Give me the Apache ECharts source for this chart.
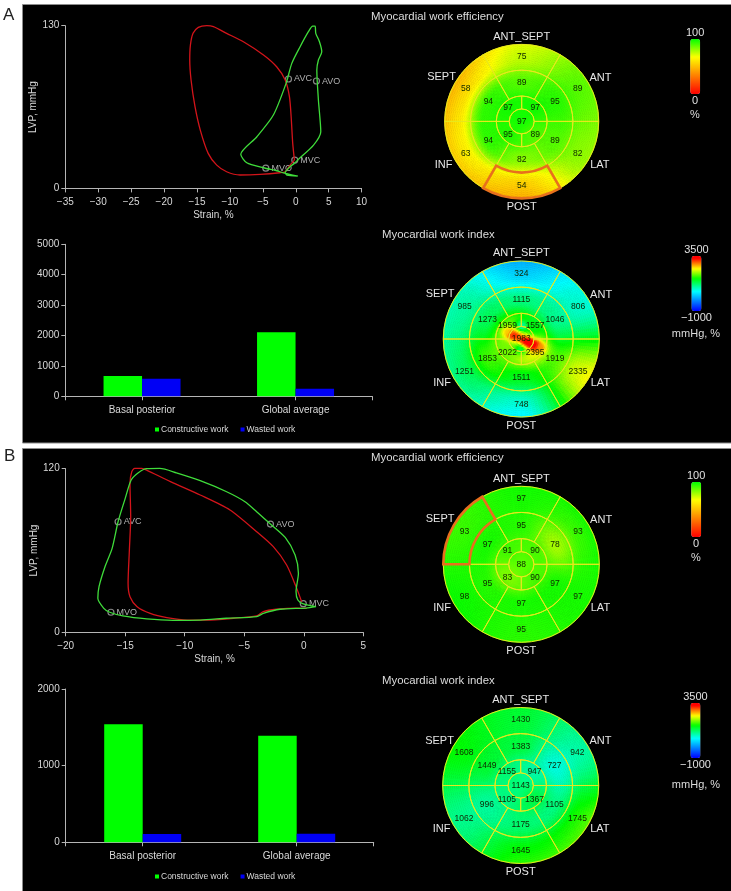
<!DOCTYPE html>
<html><head><meta charset="utf-8">
<style>html,body{margin:0;padding:0;background:#fff}#c{width:731px;height:891px}</style>
<script src="https://cdn.jsdelivr.net/npm/echarts@6/dist/echarts.min.js"></script>
</head><body><div id="c"></div>
<script>
// ---------- loop data (strain %, LVP mmHg) ----------
const aRedStrain = [-0.2,-0.46,-0.7,-0.96,-1.6,-2.9,-4.9,-7.95,-10.5,-12.5,-13.5,-14.8,-15.6,-16,-16.1,-15.9,-15.3,-14.5,-13.3,-12,-10.5,-8.45,-5.4,-2.4,-1.6,-0.86,-0.2];
const aRedLvp    = [22.6,36,57.3,73.3,86.6,97.2,106.6,117.2,123.9,129.2,130,128.7,123.9,114.5,102.6,86.6,65.3,46.6,28,18.6,13.3,10.7,11.2,12.5,13.3,18.6,22.6];
const aGreenStrain = [-0.2,0.4,2.7,3.8,3.44,3.2,3.44,3.95,3.6,3.04,2.94,2.58,1.92,0.66,-0.6,-1.47,-3.4,-5.9,-8.35,-7.44,-4.9,-2.9,-1.87,0.3,-1.37,-1.6,-0.86,-0.2];
const aGreenLvp    = [20,23.2,34.6,45.3,70.6,94.6,102.6,109.2,117.2,123.9,129.7,129.7,125.2,113.2,99.9,83.9,58.6,41.3,27.2,20.5,16.5,14.1,12.5,9.9,10.7,12.5,17.3,20];
const bRedStrain = [-0.18,-0.65,-1.44,-2.56,-3.96,-6.2,-8.7,-11.2,-13.2,-13.6,-14.2,-14.45,-14.6,-14.54,-14.65,-14.76,-14.6,-14,-12.9,-11.5,-9.8,-8.2,-5.9,-3.97,-3.4,-2.3,-0.6,0.24];
const bRedLvp    = [22.5,33.5,49.4,62.8,73.8,89.7,100.7,110.5,119,120.2,120.2,117.8,109.2,84.8,60.4,35.9,26.1,18.8,13.9,10.8,9,9,10.3,12,15.2,16.9,17.8,17.6];
const bGreenStrain = [1.03,-0.04,-0.5,-0.65,-0.45,-0.73,-1.56,-2.8,-3.96,-4.94,-6.48,-8.7,-10.7,-12.1,-13.2,-13.9,-14.5,-15,-15.6,-16.1,-16.7,-17.2,-17.3,-16.8,-16.3,-15.2,-13.2,-11,-8.7,-6.5,-3.96,-3.4,-2,0.18,1.03];
const bGreenLvp    = [18.8,20.8,23.7,29.8,43.3,56.7,69.6,79.4,88.5,95.8,103.1,111.2,117,120.2,120,117,111.7,98.2,81.1,61.6,48.1,33.5,24.9,17.6,14.7,12,9.8,8.8,9,10.3,11.5,13.9,16.9,17.8,18.8];
const valveNames = ['AVC','AVO','MVO','MVC'];
const aValveStrain = [-1.1,3.14,-4.55,-0.15];
const aValveLvp    = [87.4,85.8,16.2,22.6];
const bValveStrain = [-15.6,-2.8,-16.2,-0.04];
const bValveLvp    = [81.1,79.4,14.7,21];
// ---------- bars ----------
const barCategories = ['Basal posterior','Global average'];
const aConstructive = [669,2105];
const aWasted       = [581,252];
const bConstructive = [1539,1391];
const bWasted       = [109,113];
// ---------- bull's-eye values: [ANT_SEPT,ANT,LAT,POST,INF,SEPT] mid and outer, inner [ANT,LAT,INF,SEPT], apex ----------
const regionNames = ['ANT_SEPT','ANT','LAT','POST','INF','SEPT'];
const aEfficiency = {outer:[75,89,82,54,63,58], mid:[89,95,89,82,94,94], inner:[97,89,95,97], apex:[97]};
const aWorkIndex  = {outer:[324,806,2335,748,1251,985], mid:[1115,1046,1919,1511,1853,1273], inner:[1557,2395,2022,1959], apex:[1983]};
const bEfficiency = {outer:[97,93,97,95,98,93], mid:[95,78,97,97,95,97], inner:[90,90,83,91], apex:[88]};
const bWorkIndex  = {outer:[1430,942,1745,1645,1062,1608], mid:[1383,727,1105,1175,996,1449], inner:[947,1367,1105,1155], apex:[1143]};
// local streak seen in the A work-index map (radius fraction, angle deg, value)
const aStreakRadius = [0.17,0.12,0,0.07,0.14,0.21,0.28,0.08,0.15,0.21];
const aStreakAngle  = [90,270,0,337,337,337,337,155,158,154];
const aStreakValue  = [900,1200,3100,3300,3500,3500,2800,3000,3400,2600];
// ---------- colour scales ----------
const effStops  = [[0,[255,0,0]],[33.3,[255,128,0]],[67,[255,255,0]],[100,[0,255,0]]];
const workStops = [[-1000,[0,0,255]],[600,[0,255,255]],[1650,[0,255,0]],[2450,[255,255,0]],[3300,[255,0,0]],[3500,[255,0,0]]];

const FONT='Liberation Sans', TXT='#d9d9d9', AXC='#b5b5b5';
function colorAt(stops,v){
  if(v<=stops[0][0])return `rgb(${stops[0][1].join(',')})`;
  for(let i=1;i<stops.length;i++){
    if(v<=stops[i][0]){
      const t=(v-stops[i-1][0])/(stops[i][0]-stops[i-1][0]);
      const c=stops[i-1][1].map((a,k)=>Math.round(a+(stops[i][1][k]-a)*t));
      return `rgb(${c.join(',')})`;
    }
  }
  return `rgb(${stops[stops.length-1][1].join(',')})`;
}
function zip(a,b){return a.map((v,i)=>[v,b[i]]);}
const minus=v=>String(v).replace('-','\u2212');

// segment geometry in radius fractions
const RING={apex:.162,inner:.33,mid:.665,outer:1};
const segs=[];
const sixFrom=[60,0,300,240,180,120];
['outer','mid'].forEach(k=>{
  const r0=k==='outer'?RING.mid:RING.inner, r1=RING[k];
  sixFrom.forEach((a,i)=>segs.push({k,i,r0,r1,a0:a,a1:a+60,rc:k==='outer'?.84:.5,ac:a+30}));
});
[0,270,180,90].forEach((a,i)=>segs.push({k:'inner',i,r0:RING.apex,r1:RING.inner,a0:a,a1:a+90,rc:.25,ac:a+45}));
segs.push({k:'apex',i:0,r0:0,r1:RING.apex,a0:0,a1:360,rc:0,ac:0});

const series=[], visualMaps=[], polars=[], angleAxes=[], radiusAxes=[];
const nameRadius=[1.10,1.17,1.16,1.11,1.16,1.19], nameAngle=[90,29,331,270,209,151];
const smooth=t=>t*t*(3-2*t);

function bull(i,cx,cy,R,vals,stops,vm,highlight,spots){
  polars.push({center:[cx,cy],radius:R});
  angleAxes.push({polarIndex:i,min:0,max:360,startAngle:0,clockwise:false,show:false});
  radiusAxes.push({polarIndex:i,min:0,max:1,show:false});
  // value around a ring at angle th: ring values sit at the segment centres
  function ring(list,order,first,th){
    const n=list.length, w=360/n;
    const p=((th-first)%360+360)%360/w, j=Math.floor(p), t=smooth(p-j);
    const a=list[order[j%n]], b=list[order[(j+1)%n]];
    return a+(b-a)*t;
  }
  const o6=[1,0,5,4,3,2];          // centres 30,90,150,210,270,330 -> ANT,ANT_SEPT,SEPT,INF,POST,LAT
  const o4=[0,3,2,1];              // centres 45,135,225,315 -> ANT,SEPT,INF,LAT
  function shade(r,deg){
    const ap=vals.apex[0], inn=ring(vals.inner,o4,45,deg), mid=ring(vals.mid,o6,30,deg), out=ring(vals.outer,o6,30,deg);
    let v;
    if(r<.25) v=ap+(inn-ap)*smooth(r/.25);
    else if(r<.5) v=inn+(mid-inn)*smooth((r-.25)/.25);
    else if(r<.84) v=mid+(out-mid)*smooth((r-.5)/.34);
    else v=out+(out-mid)*(r-.84)/.34*.6;
    if(spots){
      const x=r*Math.cos(deg*Math.PI/180), y=r*Math.sin(deg*Math.PI/180);
      spots.r.forEach((sr,k)=>{
        const t=spots.a[k]*Math.PI/180, dx=x-sr*Math.cos(t), dy=y-sr*Math.sin(t);
        const w=Math.exp(-(dx*dx+dy*dy)/(2*.05*.05));
        v=v*(1-w)+spots.v[k]*w;
      });
    }
    return v;
  }
  const idx=series.length;
  series.push({
    type:'custom',coordinateSystem:'polar',polarIndex:i,silent:true,animation:false,
    dimensions:['radius','angle','value'],
    data:segs.map(s=>[s.rc,s.ac,vals[s.k][s.i]]),
    renderItem(params,api){
      const s=segs[params.dataIndex], cs=params.coordSys, P=cs.r, D=Math.PI/180, ch=[];
      const nr=Math.max(2,Math.round((s.r1-s.r0)*P/2)), na=Math.round((s.a1-s.a0)/3);
      for(let ir=0;ir<nr;ir++){
        const ra=s.r0+(s.r1-s.r0)*ir/nr, rb=s.r0+(s.r1-s.r0)*(ir+1)/nr, rm=(ra+rb)/2;
        for(let ia=0;ia<na;ia++){
          const a=s.a0+(s.a1-s.a0)*ia/na, b=s.a0+(s.a1-s.a0)*(ia+1)/na;
          const col=colorAt(stops,shade(rm,(a+b)/2));
          ch.push({type:'sector',silent:true,z2:0,
            shape:{cx:cs.cx,cy:cs.cy,r0:ra*P,r:rb*P,startAngle:-a*D,endAngle:-b*D,clockwise:false},
            style:{fill:col,stroke:col,lineWidth:.7}});
        }
      }
      const hi=highlight===params.dataIndex;
      ch.push({type:'sector',silent:true,z2:hi?6:5,
        shape:{cx:cs.cx,cy:cs.cy,r0:s.r0*P,r:s.r1*P,startAngle:-s.a0*D,endAngle:-s.a1*D,clockwise:false},
        style:{fill:'transparent',stroke:hi?'#e8701c':'#e8e81e',lineWidth:hi?2.6:1}});
      const pt=api.coord([s.rc,s.ac]);
      ch.push({type:'text',silent:true,z2:10,x:pt[0],y:pt[1],
        style:{text:String(api.value(2)),fontSize:8.5,fontFamily:FONT,fill:'#0f2600',align:'center',verticalAlign:'middle'}});
      return {type:'group',children:ch};
    }
  });
  series.push({
    type:'custom',coordinateSystem:'polar',polarIndex:i,silent:true,animation:false,
    dimensions:['radius','angle','name'],
    data:regionNames.map((n,k)=>[nameRadius[k],nameAngle[k],n]),
    renderItem(params,api){
      const pt=api.coord([nameRadius[params.dataIndex],nameAngle[params.dataIndex]]);
      return {type:'text',silent:true,x:pt[0],y:pt[1],
        style:{text:regionNames[params.dataIndex],fontSize:11,fontFamily:FONT,fill:'#e6e6e6',align:'center',verticalAlign:'middle'}};
    }
  });
  const cols=[];
  for(let k=0;k<=40;k++) cols.push(colorAt(stops,vm.min+(vm.max-vm.min)*k/40));
  visualMaps.push({type:'continuous',seriesIndex:idx,dimension:2,min:vm.min,max:vm.max,
    left:vm.x,top:vm.y,itemWidth:10,itemHeight:55,text:vm.text,textGap:1,padding:0,calculable:false,hoverLink:false,
    inRange:{color:cols},textStyle:{color:'#e0e0e0',fontSize:11,fontFamily:FONT}});
}

const titles=[];
function txt(t,x,y,o={}){titles.push(Object.assign({text:t,left:x,top:y,padding:0,
  textStyle:{color:o.color||'#dcdcdc',fontSize:o.fs||11.4,fontWeight:'normal',fontFamily:FONT}},o.extra||{}));}
txt('A',3,7,{color:'#222',fs:17});
txt('B',4,448,{color:'#222',fs:17});
txt('Myocardial work efficiency',371,11);
txt('Myocardial work index',382,229);
txt('Myocardial work efficiency',371,452);
txt('Myocardial work index',382,675);
txt('%',695,109,{fs:11,extra:{textAlign:'center'}});
txt('mmHg, %',696,328,{fs:11,extra:{textAlign:'center'}});
txt('%',696,552,{fs:11,extra:{textAlign:'center'}});
txt('mmHg, %',696,779,{fs:11,extra:{textAlign:'center'}});

bull(0,521.7,121.4,77,aEfficiency,effStops,{min:0,max:100,x:686,y:27,text:['100','0']},3,null);
bull(1,521.3,339,78,aWorkIndex,workStops,{min:-1000,max:3500,x:681,y:244,text:['3500','\u22121000']},null,{r:aStreakRadius,a:aStreakAngle,v:aStreakValue});
bull(2,521.3,564.3,78,bEfficiency,effStops,{min:0,max:100,x:687,y:470,text:['100','0']},5,null);
bull(3,520.7,785.5,78,bWorkIndex,workStops,{min:-1000,max:3500,x:680,y:691,text:['3500','\u22121000']},null,null);

const grids=[
 {left:65.3,top:25.7,width:296.3,height:162.7},
 {left:65.3,top:244.3,width:307,height:152},
 {left:65.7,top:468.7,width:297.6,height:163.6},
 {left:65.7,top:689,width:308,height:153.3}];
const al={lineStyle:{color:AXC,width:1}}, at={length:4,lineStyle:{color:AXC,width:1}};
const lab={color:TXT,fontSize:10,fontFamily:FONT};
const nameStyle={color:TXT,fontSize:10,fontFamily:FONT};
function valX(g,min,max){return {type:'value',gridIndex:g,min,max,interval:5,position:'bottom',axisLine:{show:true,onZero:false,...al},axisTick:{show:true,...at},axisLabel:{...lab,margin:9,formatter:minus},splitLine:{show:false},name:'Strain, %',nameLocation:'middle',nameGap:22,nameTextStyle:nameStyle};}
function catX(g){return {type:'category',gridIndex:g,data:barCategories,position:'bottom',axisLine:{show:true,...al},axisTick:{show:true,alignWithLabel:true,...at},axisLabel:{...lab,margin:9}};}
function edgeX(g){return {type:'category',gridIndex:g,data:[''],position:'bottom',axisLine:{show:false},axisTick:{show:true,alignWithLabel:false,...at},axisLabel:{show:false}};}
function yAx(g,max,interval,name){return {type:'value',gridIndex:g,min:0,max,interval,axisLine:{show:true,onZero:false,...al},axisTick:{show:true,...at},axisLabel:{...lab,margin:6,formatter:v=>String(v)},splitLine:{show:false},name,nameLocation:'middle',nameGap:25,nameTextStyle:nameStyle};}
const xAxis=[valX(0,-35,10),catX(1),edgeX(1),valX(2,-20,5),catX(3),edgeX(3)];
const yAxis=[yAx(0,130,130,'LVP, mmHg'),yAx(1,5000,1000),yAx(2,120,120,'LVP, mmHg'),yAx(3,2000,1000)];

function loop(x,y,s,l,c){series.push({type:'line',xAxisIndex:x,yAxisIndex:y,data:zip(s,l),showSymbol:false,symbol:'none',smooth:.25,clip:false,silent:true,animation:false,lineStyle:{color:c,width:1.3}});}
const RED='#d3141a',GRN='#3fdc3a';
loop(0,0,aRedStrain,aRedLvp,RED);loop(0,0,aGreenStrain,aGreenLvp,GRN);
loop(3,2,bRedStrain,bRedLvp,RED);loop(3,2,bGreenStrain,bGreenLvp,GRN);
function valves(x,y,s,l){series.push({type:'scatter',xAxisIndex:x,yAxisIndex:y,silent:true,animation:false,symbol:'circle',symbolSize:6,
  data:valveNames.map((n,i)=>({name:n,value:[s[i],l[i]]})),
  itemStyle:{color:'rgba(0,0,0,0)',borderColor:'#a8a8a8',borderWidth:1.2},
  label:{show:true,position:'right',distance:2,formatter:'{b}',color:TXT,fontSize:9,fontFamily:FONT}});}
valves(0,0,aValveStrain,aValveLvp);valves(3,2,bValveStrain,bValveLvp);
function bars(x,y,c,w){
  series.push({type:'bar',name:'Constructive work',xAxisIndex:x,yAxisIndex:y,data:c,barWidth:38.5,barGap:'0%',animation:false,silent:true,itemStyle:{color:'#00ff00'}});
  series.push({type:'bar',name:'Wasted work',xAxisIndex:x,yAxisIndex:y,data:w,barWidth:38.5,barGap:'0%',animation:false,silent:true,itemStyle:{color:'#0000f5'}});
}
bars(1,1,aConstructive,aWasted);bars(4,3,bConstructive,bWasted);

const legendBase={data:[{name:'Constructive work',icon:'rect'},{name:'Wasted work',icon:'rect'}],left:155,itemWidth:4,itemHeight:4,itemGap:12,padding:0,selectedMode:false,textStyle:{color:TXT,fontSize:8.5,fontFamily:FONT,padding:[0,0,0,-3]}};

const chart=echarts.init(document.getElementById('c'),null,{renderer:'canvas'});
chart.setOption({
  animation:false,backgroundColor:'#fff',textStyle:{fontFamily:FONT},
  title:titles,
  graphic:{elements:[
    {type:'rect',z:-10,silent:true,shape:{x:22.5,y:4.5,width:720,height:438.5},style:{fill:'#000',stroke:'#8c8c8c',lineWidth:1}},
    {type:'rect',z:-10,silent:true,shape:{x:22.5,y:448.5,width:720,height:450},style:{fill:'#000',stroke:'#8c8c8c',lineWidth:1}}
  ]},
  grid:grids,xAxis,yAxis,polar:polars,angleAxis:angleAxes,radiusAxis:radiusAxes,
  visualMap:visualMaps,
  legend:[Object.assign({},legendBase,{top:425}),Object.assign({},legendBase,{top:872})],
  series
});
</script></body></html>
